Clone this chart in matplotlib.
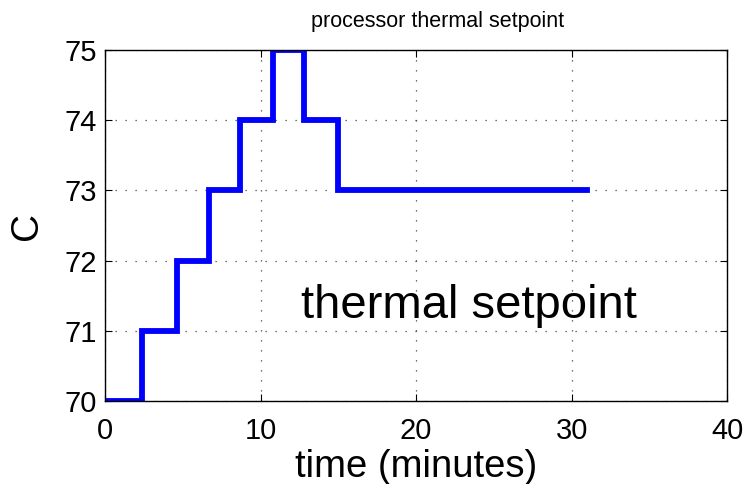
import matplotlib
matplotlib.use("Agg")
import matplotlib.pyplot as plt
import numpy as np

# step changes of the setpoint (minutes, deg C)
t_change = [0, 2.4, 4.6, 6.7, 8.7, 10.8, 12.8, 15.0, 31.0]
setpoint = [70, 71, 72, 73, 74, 75, 74, 73, 73]

plt.rcParams['font.family'] = ['Liberation Sans', 'DejaVu Sans']

fig = plt.figure(figsize=(7.45, 4.84), dpi=100)
ax = fig.add_axes([0.141, 0.171, 0.835, 0.726])

ax.step(t_change, setpoint, where='post', color='#0000ff', lw=4.2, solid_joinstyle='miter')

ax.set_xlim(0, 40)
ax.set_ylim(70, 75)
ax.set_xticks([0, 10, 20, 30, 40])
ax.set_yticks([70, 71, 72, 73, 74, 75])
ax.grid(True, linestyle=(0, (1, 7)), color='#444444', lw=0.9)
ax.tick_params(direction='in', top=True, right=True, labelsize=21, length=5)
ax.tick_params(axis='x', pad=11)
ax.tick_params(axis='y', pad=6)
for s in ax.spines.values():
    s.set_linewidth(1.0)

ax.set_xlabel('time (minutes)', fontsize=27.5, labelpad=3.5)
ax.set_ylabel('C', fontsize=28, labelpad=14)
ax.set_title('processor thermal setpoint', fontsize=15.5, x=0.534, pad=16.5)
ax.text(12.6, 71.18, 'thermal setpoint', fontsize=34, ha='left', va='baseline')

fig.savefig('out.png', dpi=100)
